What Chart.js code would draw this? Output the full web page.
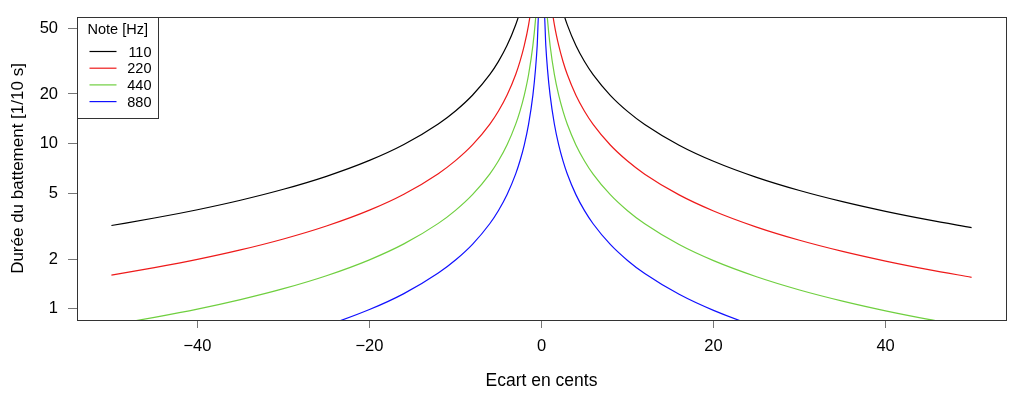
<!DOCTYPE html>
<html>
<head>
<meta charset="utf-8">
<script src="https://cdn.jsdelivr.net/npm/chart.js@4/dist/chart.umd.min.js"></script>
<style>
  html, body { margin: 0; padding: 0; background: #fff; }
  #wrap { width: 1024px; height: 398px; }
</style>
</head>
<body>
<div id="wrap"><canvas id="chart" width="1024" height="398"></canvas></div>
<script>
// deviation in cents (x)
var cents = [-50, -45, -40, -35, -30, -25, -20, -16, -12, -10, -8, -6, -5, -4, -3, -2.5, -2, -1.5, -1, -0.7, -0.5, -0.3,
             0.3, 0.5, 0.7, 1, 1.5, 2, 2.5, 3, 4, 5, 6, 8, 10, 12, 16, 20, 25, 30, 35, 40, 45, 50];

// beat duration in tenths of a second, one series per note
var dur110 = [3.193, 3.547, 3.980, 4.542, 5.292, 6.341, 7.915, 9.882, 13.16, 15.78, 19.72, 26.28, 31.52, 39.39, 52.51, 63.00, 78.74, 105.0, 157.4, 224.9, 314.8, 524.6,
              524.6, 314.8, 224.8, 157.3, 104.9, 78.65, 62.91, 52.42, 39.30, 31.43, 26.19, 19.63, 15.69, 13.07, 9.791, 7.824, 6.250, 5.201, 4.451, 3.889, 3.452, 3.103];
var dur220 = [1.597, 1.774, 1.990, 2.271, 2.646, 3.171, 3.957, 4.941, 6.581, 7.892, 9.860, 13.14, 15.76, 19.70, 26.25, 31.50, 39.37, 52.48, 78.70, 112.4, 157.4, 262.3,
              262.3, 157.4, 112.4, 78.65, 52.44, 39.33, 31.45, 26.21, 19.65, 15.72, 13.09, 9.814, 7.847, 6.535, 4.896, 3.912, 3.125, 2.600, 2.226, 1.945, 1.726, 1.551];
var dur440 = [0.798, 0.887, 0.995, 1.136, 1.323, 1.585, 1.979, 2.471, 3.290, 3.946, 4.930, 6.569, 7.881, 9.848, 13.13, 15.75, 19.69, 26.24, 39.35, 56.22, 78.69, 131.2,
              131.2, 78.69, 56.20, 39.33, 26.22, 19.66, 15.73, 13.10, 9.825, 7.858, 6.547, 4.907, 3.923, 3.268, 2.448, 1.956, 1.563, 1.300, 1.113, 0.972, 0.863, 0.776];
var dur880 = [0.399, 0.443, 0.498, 0.568, 0.662, 0.793, 0.989, 1.235, 1.645, 1.973, 2.465, 3.285, 3.940, 4.924, 6.563, 7.875, 9.843, 13.12, 19.68, 28.11, 39.34, 65.58,
              65.58, 39.34, 28.10, 19.66, 13.11, 9.831, 7.864, 6.552, 4.913, 3.929, 3.273, 2.453, 1.962, 1.634, 1.224, 0.978, 0.781, 0.650, 0.556, 0.486, 0.432, 0.388];

var notes = ['110', '220', '440', '880'];
var colors = ['#000000', '#ee1a1a', '#6fcf3f', '#1010ff'];
var series = [dur110, dur220, dur440, dur880];
var yTicks = [1, 2, 5, 10, 20, 50];
var xTicks = [-40, -20, 0, 20, 40];

var FONT = '"Liberation Sans", Arial, Helvetica, sans-serif';

function makeData(ys) {
  return cents.map(function(c, i) { return {x: c, y: ys[i]}; });
}

/* frame around the plot region + R-style legend */
var framePlugin = {
  id: 'frame',
  afterDatasetsDraw: function(chart) {
    var a = chart.chartArea, ctx = chart.ctx;
    ctx.save();
    ctx.strokeStyle = '#333';
    ctx.lineWidth = 1;
    ctx.strokeRect(Math.round(a.left) + 0.5, Math.round(a.top) + 0.5,
                   Math.round(a.right - a.left), Math.round(a.bottom - a.top));

    // legend box
    var lx = Math.round(a.left) + 0.5, ly = Math.round(a.top) + 0.5;
    var lw = 81, lh = 101;
    ctx.fillStyle = '#fff';
    ctx.fillRect(lx, ly, lw, lh);
    ctx.strokeRect(lx, ly, lw, lh);
    ctx.fillStyle = '#000';
    ctx.font = '14.5px ' + FONT;
    ctx.textBaseline = 'middle';
    ctx.textAlign = 'left';
    ctx.fillText('Note [Hz]', lx + 10, ly + 12);
    chart.data.datasets.forEach(function(ds, i) {
      var yy = ly + 34 + i * 16.7;
      ctx.strokeStyle = ds.borderColor;
      ctx.lineWidth = 1.2;
      ctx.beginPath();
      ctx.moveTo(lx + 12, yy);
      ctx.lineTo(lx + 39, yy);
      ctx.stroke();
      ctx.fillStyle = '#000';
      ctx.textAlign = 'right';
      ctx.fillText(ds.label, lx + 74, yy + 1);
    });
    ctx.restore();
  }
};

new Chart(document.getElementById('chart'), {
  type: 'line',
  data: {
    datasets: series.map(function(ys, i) {
      return {
        label: notes[i],
        data: makeData(ys),
        borderColor: colors[i],
        borderWidth: 1.2,
        pointRadius: 0,
        cubicInterpolationMode: 'monotone',
        fill: false
      };
    })
  },
  options: {
    responsive: false,
    animation: false,
    devicePixelRatio: 1,
    layout: { padding: { top: 17, right: 18, left: 0, bottom: 0 } },
    plugins: {
      legend: { display: false },
      tooltip: { enabled: false }
    },
    scales: {
      x: {
        type: 'linear',
        min: -54,
        max: 54,
        afterBuildTicks: function(scale) {
          scale.ticks = xTicks.map(function(v) { return {value: v}; });
        },
        afterFit: function(scale) { scale.height = 78; },
        grid: { drawOnChartArea: false, drawTicks: true, tickLength: 8, color: '#777' },
        border: { display: false },
        ticks: {
          color: '#000',
          font: { family: FONT, size: 16.5 },
          padding: 9,
          maxRotation: 0,
          callback: function(v) { return v < 0 ? '\u2212' + Math.abs(v) : String(v); }
        },
        title: {
          display: true,
          text: 'Ecart en cents',
          color: '#000',
          font: { family: FONT, size: 17.5 },
          padding: { top: 10, bottom: 6 }
        }
      },
      y: {
        type: 'logarithmic',
        min: 0.855,
        max: 58.5,
        afterBuildTicks: function(scale) {
          scale.ticks = yTicks.map(function(v) { return {value: v}; });
        },
        afterFit: function(scale) {
          scale.width = 77;
          scale.paddingTop = 0;
          scale.paddingBottom = 0;
        },
        grid: { drawOnChartArea: false, drawTicks: true, tickLength: 9, color: '#777' },
        border: { display: false },
        ticks: {
          color: '#000',
          font: { family: FONT, size: 16.5 },
          padding: 10,
          callback: function(v) { return String(v); }
        },
        title: {
          display: true,
          text: 'Durée du battement [1/10 s]',
          color: '#000',
          font: { family: FONT, size: 17 },
          padding: { top: 8, bottom: 0 }
        }
      }
    }
  },
  plugins: [framePlugin]
});
</script>
</body>
</html>
